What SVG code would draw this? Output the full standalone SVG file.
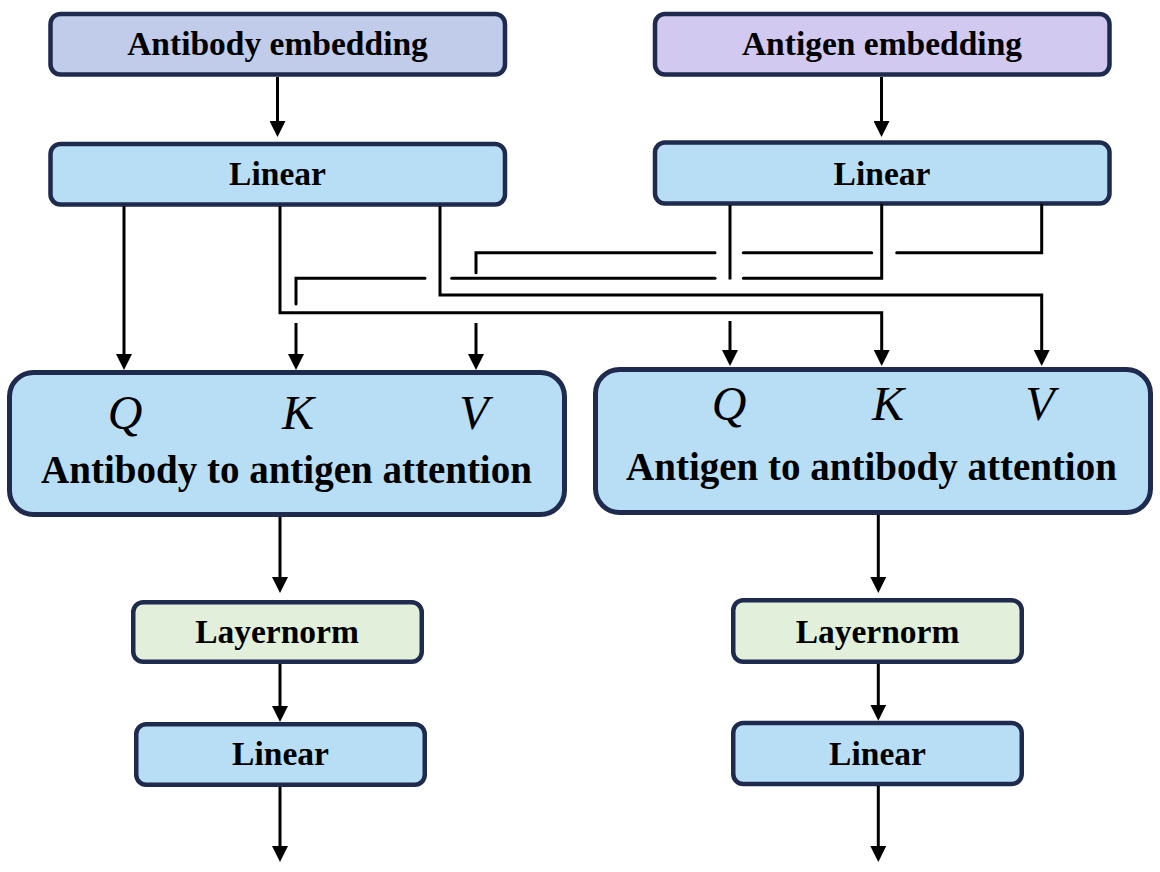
<svg xmlns="http://www.w3.org/2000/svg" width="1160" height="872" viewBox="0 0 1160 872">
<style>
.box{stroke:#1f2b4e;stroke-width:4.5}
.att{stroke:#1f2b4e;stroke-width:5}
.lbl{font-family:"Liberation Serif","Times New Roman",serif;font-weight:bold;font-size:33.5px;text-anchor:middle;fill:#000}
.ttl{font-family:"Liberation Serif","Times New Roman",serif;font-weight:bold;font-size:39px;text-anchor:middle;fill:#000}
.var{font-family:"Liberation Serif","Times New Roman",serif;font-style:italic;font-size:48px;text-anchor:middle;fill:#000}
.ab{fill:#c0cce9}
.ag{fill:#d2c9f0}
.lin{fill:#b8def6}
.ln{fill:#e2efda}
#connectors path{fill:none;stroke:#000;stroke-width:3}
#connectors .g{stroke-linecap:round}
</style>
<defs>
<marker id="arr" markerUnits="userSpaceOnUse" viewBox="0 0 16 16" markerWidth="16" markerHeight="16" refX="1" refY="8" orient="auto">
<path d="M0,0 L16,8 L0,16 z" fill="#000"/>
</marker>
</defs>

<g id="antibody-embedding">
<rect class="box ab" x="50.5" y="14" width="454.5" height="60.5" rx="10"/>
<text class="lbl" x="277.5" y="55">Antibody embedding</text>
</g>
<g id="antigen-embedding">
<rect class="box ag" x="655" y="14" width="454.5" height="60.5" rx="10"/>
<text class="lbl" x="882" y="55">Antigen embedding</text>
</g>
<g id="antibody-linear">
<rect class="box lin" x="50.5" y="144" width="454.5" height="60.5" rx="10"/>
<text class="lbl" x="277.5" y="185">Linear</text>
</g>
<g id="antigen-linear">
<rect class="box lin" x="655" y="142.5" width="454.5" height="61" rx="10"/>
<text class="lbl" x="882" y="185">Linear</text>
</g>
<g id="antibody-attention">
<rect class="att lin" x="9.5" y="372.5" width="555" height="142" rx="24"/>
<text class="var" x="125" y="429">Q</text>
<text class="var" x="298" y="429">K</text>
<text class="var" x="474" y="429">V</text>
<text class="ttl" x="286.5" y="482.5">Antibody to antigen attention</text>
</g>
<g id="antigen-attention">
<rect class="att lin" x="595.5" y="369.5" width="555" height="143" rx="24"/>
<text class="var" x="729" y="420">Q</text>
<text class="var" x="888" y="420">K</text>
<text class="var" x="1040" y="420">V</text>
<text class="ttl" x="871.5" y="479.5">Antigen to antibody attention</text>
</g>
<g id="antibody-layernorm">
<rect class="box ln" x="133.25" y="602.25" width="288.5" height="59.5" rx="10"/>
<text class="lbl" x="277" y="643">Layernorm</text>
</g>
<g id="antigen-layernorm">
<rect class="box ln" x="733.25" y="600.25" width="288.5" height="61.5" rx="10"/>
<text class="lbl" x="877.5" y="643">Layernorm</text>
</g>
<g id="antibody-linear-out">
<rect class="box lin" x="136.25" y="724.25" width="288.5" height="60.5" rx="10"/>
<text class="lbl" x="280.5" y="765">Linear</text>
</g>
<g id="antigen-linear-out">
<rect class="box lin" x="733.25" y="723" width="288.5" height="61" rx="10"/>
<text class="lbl" x="877.5" y="765">Linear</text>
</g>

<g id="connectors">
<path d="M277.5,77 V122" marker-end="url(#arr)"/>
<path d="M881.5,77 V122" marker-end="url(#arr)"/>
<path d="M124,206 V355" marker-end="url(#arr)"/>
<path d="M280,206 V312.7 H881.7 V351" marker-end="url(#arr)"/>
<path d="M440,206 V295 H1041.7 V351" marker-end="url(#arr)"/>
<path d="M730,205 V279.5"/>
<path d="M730,321 V351" marker-end="url(#arr)"/>
<path class="g" d="M881.7,205 V278.3 H743.3"/>
<path class="g" d="M715,278.3 H451.7"/>
<path class="g" d="M425,278.3 H296 V304"/>
<path d="M296,323 V355" marker-end="url(#arr)"/>
<path class="g" d="M1041.7,205 V252.7 H896.7"/>
<path class="g" d="M871.7,252.7 H743.3"/>
<path class="g" d="M715,252.7 H476 V272.7"/>
<path d="M476,323 V355" marker-end="url(#arr)"/>
<path d="M280,517 V578" marker-end="url(#arr)"/>
<path d="M280,664 V707" marker-end="url(#arr)"/>
<path d="M280,787 V847" marker-end="url(#arr)"/>
<path d="M878.3,515 V578" marker-end="url(#arr)"/>
<path d="M878.3,664 V705.7" marker-end="url(#arr)"/>
<path d="M878.3,786 V847" marker-end="url(#arr)"/>
</g>
</svg>
